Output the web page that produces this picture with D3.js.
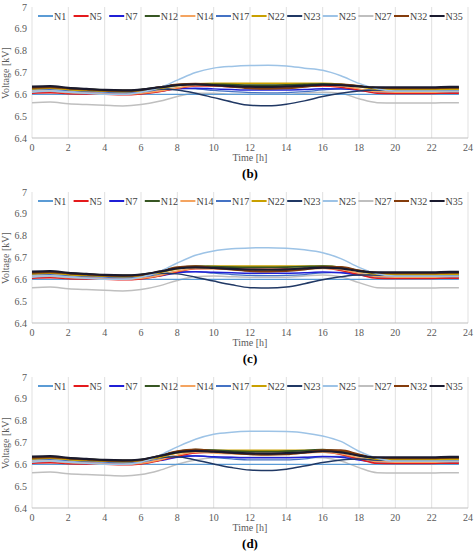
<!DOCTYPE html><html><head><meta charset="utf-8">
<script src="https://cdn.jsdelivr.net/npm/d3@7"></script>
<style>body{margin:0;background:#fff}svg text{font-family:'Liberation Serif','DejaVu Serif',serif}</style></head><body>
<svg id="c" width="474" height="552"></svg>
<script>
const hours=[0,1,2,3,4,5,6,7,8,9,10,11,12,13,14,15,16,17,18,19,20,21,22,23,23.5];
const names=["N1","N5","N7","N12","N14","N17","N22","N23","N25","N27","N32","N35"];
const colors=["#5b9bd5","#e41a1c","#1f1fd6","#375623","#f4a460","#4472c4","#c9a000","#203864","#9dc3e6","#bfbfbf","#843c0c","#1a1a2e"];
const widths=[1.3,1.5,1.5,1.8,1.5,1.3,1.8,1.5,1.5,1.5,2,2.2];
const xTicks=[0,2,4,6,8,10,12,14,16,18,20,22,24];
const yTicks=[6.4,6.5,6.6,6.7,6.8,6.9,7];
const panelLabels=["(b)","(c)","(d)"];
const flat=[6.6,6.6,6.6,6.6,6.6,6.6,6.6,6.6,6.6,6.6,6.6,6.6,6.6,6.6,6.6,6.6,6.6,6.6,6.6,6.6,6.6,6.6,6.6,6.6,6.6];
const panelB=[flat,
[6.605,6.607,6.603,6.601,6.6,6.598,6.602,6.612,6.628,6.638,6.638,6.635,6.633,6.633,6.634,6.636,6.638,6.632,6.62,6.605,6.604,6.604,6.604,6.605,6.605],
[6.61,6.612,6.608,6.605,6.603,6.602,6.606,6.614,6.625,6.628,6.625,6.622,6.62,6.62,6.62,6.622,6.626,6.625,6.618,6.61,6.608,6.608,6.608,6.61,6.61],
[6.632,6.635,6.628,6.624,6.62,6.618,6.622,6.632,6.643,6.648,6.646,6.644,6.642,6.642,6.643,6.645,6.648,6.646,6.638,6.63,6.628,6.628,6.628,6.63,6.63],
[6.612,6.614,6.608,6.605,6.602,6.6,6.605,6.615,6.63,6.64,6.64,6.638,6.636,6.636,6.637,6.64,6.642,6.638,6.625,6.612,6.61,6.61,6.61,6.612,6.612],
[6.62,6.622,6.617,6.613,6.61,6.608,6.612,6.62,6.628,6.625,6.618,6.612,6.608,6.607,6.608,6.612,6.62,6.625,6.622,6.618,6.616,6.616,6.616,6.618,6.618],
[6.625,6.628,6.622,6.618,6.615,6.613,6.617,6.627,6.64,6.648,6.65,6.65,6.65,6.65,6.65,6.65,6.65,6.646,6.635,6.624,6.622,6.622,6.622,6.624,6.624],
[6.625,6.63,6.625,6.62,6.615,6.615,6.62,6.625,6.62,6.605,6.585,6.565,6.55,6.548,6.555,6.57,6.59,6.605,6.615,6.62,6.62,6.62,6.62,6.62,6.62],
[6.61,6.615,6.61,6.605,6.6,6.6,6.61,6.63,6.665,6.7,6.72,6.728,6.732,6.733,6.73,6.72,6.71,6.685,6.65,6.625,6.615,6.615,6.615,6.615,6.615],
[6.562,6.565,6.557,6.553,6.55,6.547,6.553,6.568,6.59,6.605,6.605,6.6,6.6,6.6,6.6,6.605,6.61,6.605,6.58,6.562,6.56,6.56,6.56,6.562,6.562],
[6.63,6.633,6.627,6.622,6.618,6.616,6.62,6.632,6.645,6.648,6.642,6.635,6.628,6.626,6.628,6.635,6.643,6.645,6.638,6.63,6.628,6.628,6.628,6.63,6.63],
[6.635,6.638,6.63,6.625,6.62,6.618,6.622,6.632,6.642,6.646,6.642,6.638,6.635,6.634,6.636,6.64,6.644,6.642,6.636,6.632,6.632,6.632,6.632,6.634,6.634]];
const panelC=[flat,
[6.605,6.607,6.603,6.601,6.6,6.598,6.602,6.615,6.635,6.648,6.65,6.648,6.646,6.646,6.647,6.65,6.652,6.64,6.622,6.605,6.604,6.604,6.604,6.605,6.605],
[6.61,6.612,6.608,6.605,6.603,6.602,6.606,6.615,6.63,6.635,6.632,6.63,6.628,6.628,6.628,6.63,6.634,6.63,6.62,6.61,6.608,6.608,6.608,6.61,6.61],
[6.632,6.635,6.628,6.624,6.62,6.618,6.622,6.635,6.652,6.66,6.658,6.656,6.655,6.655,6.656,6.658,6.66,6.655,6.64,6.63,6.628,6.628,6.628,6.63,6.63],
[6.612,6.614,6.608,6.605,6.602,6.6,6.605,6.618,6.638,6.65,6.648,6.645,6.643,6.643,6.645,6.648,6.65,6.645,6.628,6.612,6.61,6.61,6.61,6.612,6.612],
[6.62,6.622,6.617,6.613,6.61,6.608,6.612,6.622,6.635,6.635,6.628,6.622,6.618,6.617,6.618,6.622,6.63,6.632,6.625,6.618,6.616,6.616,6.616,6.618,6.618],
[6.625,6.628,6.622,6.618,6.615,6.613,6.617,6.63,6.648,6.658,6.66,6.66,6.66,6.66,6.66,6.66,6.66,6.655,6.638,6.624,6.622,6.622,6.622,6.624,6.624],
[6.625,6.63,6.625,6.62,6.615,6.615,6.62,6.628,6.625,6.61,6.592,6.575,6.562,6.56,6.565,6.58,6.598,6.612,6.62,6.62,6.62,6.62,6.62,6.62,6.62],
[6.61,6.615,6.61,6.605,6.6,6.6,6.61,6.635,6.675,6.71,6.73,6.74,6.744,6.745,6.742,6.735,6.722,6.695,6.655,6.625,6.615,6.615,6.615,6.615,6.615],
[6.562,6.565,6.557,6.553,6.55,6.547,6.553,6.57,6.595,6.612,6.615,6.612,6.61,6.61,6.61,6.615,6.62,6.612,6.585,6.562,6.56,6.56,6.56,6.562,6.562],
[6.63,6.633,6.627,6.622,6.618,6.616,6.62,6.635,6.655,6.66,6.652,6.645,6.638,6.636,6.638,6.645,6.655,6.656,6.64,6.63,6.628,6.628,6.628,6.63,6.63],
[6.635,6.638,6.63,6.625,6.62,6.618,6.622,6.635,6.65,6.655,6.652,6.648,6.645,6.644,6.646,6.65,6.654,6.65,6.638,6.632,6.632,6.632,6.632,6.634,6.634]];
const panelD=[flat,
[6.605,6.607,6.603,6.601,6.6,6.598,6.602,6.617,6.638,6.652,6.655,6.652,6.65,6.65,6.651,6.654,6.656,6.645,6.624,6.605,6.604,6.604,6.604,6.605,6.605],
[6.61,6.612,6.608,6.605,6.603,6.602,6.606,6.617,6.632,6.638,6.635,6.632,6.63,6.63,6.63,6.632,6.636,6.632,6.62,6.61,6.608,6.608,6.608,6.61,6.61],
[6.632,6.635,6.628,6.624,6.62,6.618,6.622,6.638,6.658,6.667,6.665,6.66,6.658,6.658,6.66,6.663,6.667,6.66,6.642,6.63,6.628,6.628,6.628,6.63,6.63],
[6.612,6.614,6.608,6.605,6.602,6.6,6.605,6.62,6.642,6.655,6.652,6.648,6.646,6.646,6.648,6.652,6.655,6.648,6.63,6.612,6.61,6.61,6.61,6.612,6.612],
[6.62,6.622,6.617,6.613,6.61,6.608,6.612,6.624,6.64,6.64,6.632,6.625,6.62,6.62,6.62,6.625,6.635,6.636,6.627,6.618,6.616,6.616,6.616,6.618,6.618],
[6.625,6.628,6.622,6.618,6.615,6.613,6.617,6.632,6.652,6.662,6.664,6.664,6.664,6.664,6.664,6.664,6.664,6.658,6.64,6.624,6.622,6.622,6.622,6.624,6.624],
[6.625,6.63,6.625,6.62,6.615,6.615,6.62,6.63,6.635,6.62,6.602,6.585,6.574,6.572,6.578,6.592,6.608,6.62,6.625,6.62,6.62,6.62,6.62,6.62,6.62],
[6.61,6.615,6.61,6.605,6.6,6.6,6.61,6.64,6.68,6.715,6.738,6.747,6.751,6.752,6.75,6.744,6.73,6.705,6.66,6.628,6.615,6.615,6.615,6.615,6.615],
[6.562,6.565,6.557,6.553,6.55,6.547,6.553,6.572,6.6,6.62,6.63,6.632,6.632,6.632,6.632,6.632,6.63,6.615,6.585,6.562,6.56,6.56,6.56,6.562,6.562],
[6.63,6.633,6.627,6.622,6.618,6.616,6.62,6.638,6.66,6.668,6.66,6.652,6.646,6.644,6.646,6.654,6.664,6.664,6.645,6.63,6.628,6.628,6.628,6.63,6.63],
[6.635,6.638,6.63,6.625,6.62,6.618,6.622,6.638,6.655,6.662,6.658,6.654,6.65,6.649,6.651,6.655,6.66,6.655,6.64,6.632,6.632,6.632,6.632,6.634,6.634]];
const panels=[panelB,panelC,panelD];
const tops=[7,192,377];
const svg=d3.select("#c");
const FF="'Liberation Serif','DejaVu Serif',serif";
const x=d3.scaleLinear().domain([0,24]).range([32,468]);
panels.forEach((data,pi)=>{
  const t=tops[pi];
  const y=d3.scaleLinear().domain([6.4,7]).range([t+131,t]);
  const g=svg.append("g").attr("font-family",FF);
  g.selectAll(".vg").data(xTicks).join("line").attr("x1",d=>x(d)).attr("x2",d=>x(d)).attr("y1",t).attr("y2",t+131).attr("stroke","#d9d9d9").attr("stroke-width",0.8);
  g.append("line").attr("x1",32).attr("x2",468).attr("y1",t+131).attr("y2",t+131).attr("stroke","#bfbfbf");
  g.selectAll(".yt").data(yTicks).join("text").attr("x",27).attr("y",d=>y(d)+3.5).attr("text-anchor","end").attr("font-size",10).attr("fill","#595959").text(d=>d===7?"7":d.toFixed(1));
  g.selectAll(".xt").data(xTicks).join("text").attr("x",d=>x(d)).attr("y",t+144).attr("text-anchor","middle").attr("font-size",10).attr("fill","#595959").text(d=>d);
  g.append("text").attr("x",x(12)).attr("y",t+154).attr("text-anchor","middle").attr("font-size",10).attr("fill","#595959").text("Time [h]");
  g.append("text").attr("transform",`translate(9,${t+66}) rotate(-90)`).attr("text-anchor","middle").attr("font-size",10).attr("fill","#595959").text("Voltage [kV]");
  g.append("text").attr("x",x(12)).attr("y",t+171).attr("text-anchor","middle").attr("font-size",13).attr("font-weight","bold").attr("fill","#000").text(panelLabels[pi]);
  const line=d3.line().x((d,i)=>x(hours[i])).y(d=>y(d)).curve(d3.curveMonotoneX);
  const order=[9,0,5,2,1,4,7,6,3,10,8,11];
  order.forEach(k=>{
    g.append("path").attr("d",line(data[k])).attr("fill","none").attr("stroke",colors[k]).attr("stroke-width",widths[k]);
  });
  names.forEach((n,k)=>{
    const lx=38+k*35.6, ly=t+9;
    g.append("line").attr("x1",lx).attr("x2",lx+15).attr("y1",ly).attr("y2",ly).attr("stroke",colors[k]).attr("stroke-width",2);
    g.append("text").attr("x",lx+16).attr("y",ly+3.5).attr("font-size",10).attr("fill","#404040").text(n);
  });
});
</script></body></html>
